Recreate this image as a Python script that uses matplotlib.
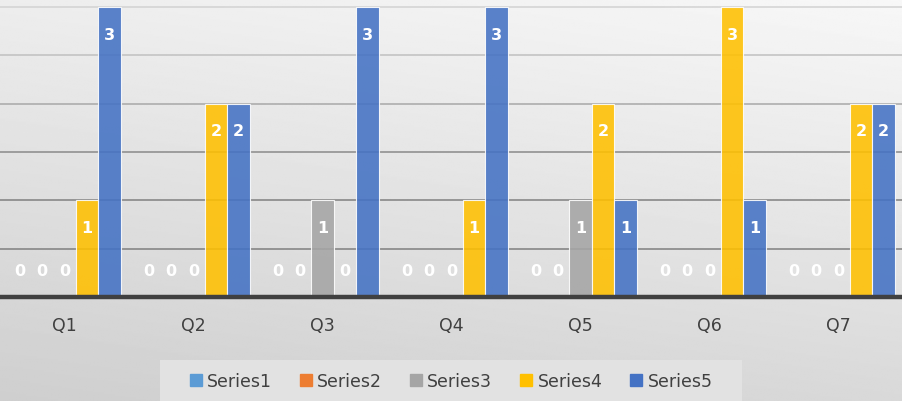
import matplotlib.pyplot as plt
import numpy as np

categories = ["Q1", "Q2", "Q3", "Q4", "Q5", "Q6", "Q7"]
series_names = ["Series1", "Series2", "Series3", "Series4", "Series5"]
series1 = [0, 0, 0, 0, 0, 0, 0]
series2 = [0, 0, 0, 0, 0, 0, 0]
series3 = [0, 0, 1, 0, 1, 0, 0]
series4 = [1, 2, 0, 1, 2, 3, 2]
series5 = [3, 2, 3, 3, 1, 1, 2]
colors = ["#5b9bd5", "#ed7d31", "#a5a5a5", "#ffc000", "#4472c4"]

all_series = [series1, series2, series3, series4, series5]

fig = plt.figure(figsize=(9.03, 4.02), dpi=100)

# background gradient (light at top, darker at bottom)
bg = fig.add_axes([0, 0, 1, 1], zorder=-10)
grad = np.linspace(0.95, 0.83, 256).reshape(-1, 1) + np.linspace(-0.02, 0.02, 256).reshape(1, -1)
bg.imshow(np.clip(grad, 0, 1), cmap="gray", vmin=0, vmax=1, aspect="auto", extent=[0, 1, 0, 1])
bg.axis("off")

ax = fig.add_axes([0, 1 - 298 / 402, 1, 298 / 402])
ax.patch.set_alpha(0)

x = np.arange(len(categories))
w = 0.175

# gridlines, lighter towards the top
grid_cols = {0.5: "#7f7f7f", 1.0: "#808080", 1.5: "#8a8a8a", 2.0: "#a8a8a8", 2.5: "#c0c0c0", 3.0: "#d2d2d2"}
for lvl, c in grid_cols.items():
    ax.axhline(lvl, color=c, lw=1.1, zorder=1)

for i, (vals, col) in enumerate(zip(all_series, colors)):
    pos = x + (i - 2) * w
    ax.bar(pos, vals, w, color=col, alpha=0.88, edgecolor=(1, 1, 1, 0.5), lw=0.8,
           zorder=2, label=series_names[i])
    for px, v in zip(pos, vals):
        if v == 0:
            ty = 0.27
        else:
            ty = v - 0.28
        ax.text(px, ty, str(v), color="white", fontsize=11.5, fontweight="bold",
                ha="center", va="center", zorder=5)

# thick dark baseline
ax.axhline(0, color="#404040", lw=3.2, zorder=4, clip_on=False)

ax.set_xlim(-0.5, 6.5)
ax.set_ylim(0, 3 + 8 / 96.67)
ax.set_yticks([])
ax.set_xticks(x)
ax.set_xticklabels(categories, fontsize=12.5, color="#404040")
ax.tick_params(axis="x", length=0, pad=14)
for s in ax.spines.values():
    s.set_visible(False)

# legend background box
fig.patches.append(plt.Rectangle((160 / 903, 0), 582 / 903, 41 / 402, transform=fig.transFigure,
                                 facecolor="#e2e2e2", edgecolor="none", zorder=-1))
handles = [plt.Rectangle((0, 0), 1, 1, color=c) for c in colors]
leg = fig.legend(handles, series_names, loc="center", bbox_to_anchor=(451 / 903, 20 / 402), ncol=5,
                 frameon=False, fontsize=12.5, handlelength=0.7, handleheight=0.7,
                 handletextpad=0.3, columnspacing=1.6)
for t in leg.get_texts():
    t.set_color("#404040")

fig.savefig("out.png", dpi=100)
